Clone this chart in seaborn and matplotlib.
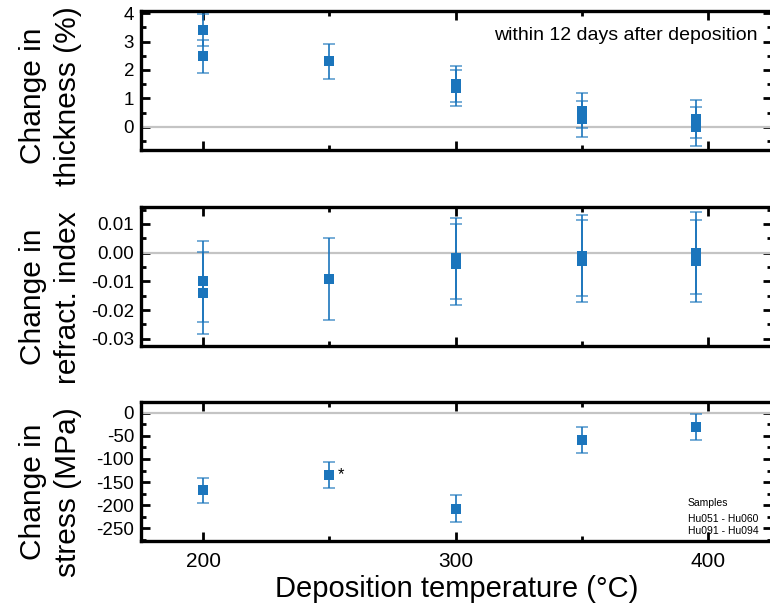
import matplotlib
matplotlib.use('Agg')
import matplotlib.pyplot as plt
from matplotlib.ticker import MultipleLocator, FormatStrFormatter
import seaborn as sns

# deposition temperature (°C) of the two sample groups
temp_a = [200, 250, 300, 350, 395]
temp_b = [200, 300, 350, 395]
groups = ['Hu051 - Hu060', 'Hu091 - Hu094']

# change in thickness (%)
thick_a = [3.40, 2.30, 1.50, 0.56, 0.27]
thick_a_err = [0.56, 0.61, 0.64, 0.62, 0.67]
thick_b = [2.48, 1.36, 0.27, 0.00]
thick_b_err = [0.59, 0.63, 0.63, 0.68]

# change in refractive index
ri_a = [-0.0100, -0.0091, -0.0020, -0.0010, 0.0000]
ri_a_err = [0.0142, 0.0142, 0.0142, 0.0142, 0.0143]
ri_b = [-0.0140, -0.0041, -0.0030, -0.0030]
ri_b_err = [0.0142, 0.0142, 0.0143, 0.0143]

# change in stress (MPa)
stress = [-168, -135, -207, -58, -31]
stress_err = [28, 28, 28.5, 28, 28]

blue = '#1b75bc'

sns.set_theme(style='ticks')
plt.rcParams['font.family'] = ['Liberation Sans', 'DejaVu Sans']
plt.rcParams['axes.unicode_minus'] = False
plt.rcParams['text.color'] = 'black'
plt.rcParams['axes.labelcolor'] = 'black'
plt.rcParams['xtick.color'] = 'black'
plt.rcParams['ytick.color'] = 'black'


def draw(ax, x, y, err):
    eb = ax.errorbar(x, y, yerr=err, fmt='none', ecolor=blue, elinewidth=1.2,
                     capsize=4, capthick=1.3, zorder=3)
    for cap in eb[1]:
        cap.set_alpha(0.65)
    sns.scatterplot(x=x, y=y, ax=ax, marker='s', s=42, color=blue,
                    linewidth=0, zorder=4, legend=False)


fig = plt.figure(figsize=(7.7, 6.1), dpi=100)
left, width = 0.1831, 0.8189
ax1 = fig.add_axes([left, 0.7541, width, 0.2279])
ax2 = fig.add_axes([left, 0.4333, width, 0.2269], sharex=ax1)
ax3 = fig.add_axes([left, 0.1136, width, 0.2279], sharex=ax1)

draw(ax1, temp_a, thick_a, thick_a_err)
draw(ax1, temp_b, thick_b, thick_b_err)
draw(ax2, temp_a, ri_a, ri_a_err)
draw(ax2, temp_b, ri_b, ri_b_err)
draw(ax3, temp_a, stress, stress_err)

setup = [
    (ax1, (-0.82, 4.08), 1, 0.5, '%d', 'Change in\nthickness (%)', 0.39),
    (ax2, (-0.0324, 0.0158), 0.01, 0.005, '%.2f', 'Change in\nrefract. index', 0.35),
    (ax3, (-276.5, 23.8), 50, 25, '%d', 'Change in\nstress (MPa)', 0.35),
]
for ax, ylim, maj, mnr, fmt, label, ly in setup:
    ax.axhline(0, color='#c4c4c4', lw=1.6, zorder=1)
    ax.set_ylim(*ylim)
    ax.yaxis.set_major_locator(MultipleLocator(maj))
    ax.yaxis.set_minor_locator(MultipleLocator(mnr))
    ax.yaxis.set_major_formatter(FormatStrFormatter(fmt))
    ax.tick_params(which='both', direction='in', top=True, right=True,
                   color='black', width=2)
    ax.tick_params(which='major', length=6.5, labelsize=13.5, pad=5)
    ax.tick_params(which='minor', length=3.5)
    ax.tick_params(axis='x', labelsize=15, pad=8)
    for sp in ax.spines.values():
        sp.set_linewidth(2.4)
        sp.set_color('black')
    ax.set_ylabel(label, fontsize=21.5, linespacing=1.3, color='black')
    ax.yaxis.set_label_coords(-0.094, ly)
    ax.grid(False)

ax1.set_xlim(175.4, 425.1)
ax1.xaxis.set_major_locator(MultipleLocator(100))
ax1.xaxis.set_minor_locator(MultipleLocator(50))
ax1.tick_params(axis='x', labelbottom=False)
ax2.tick_params(axis='x', labelbottom=False)
ax3.set_xlabel('Deposition temperature (°C)', fontsize=21, labelpad=3, color='black')

ax1.text(0.977, 0.827, 'within 12 days after deposition', transform=ax1.transAxes,
         ha='right', va='center', fontsize=14, color='black')

ax3.annotate('*', xy=(temp_a[1], stress[1]), xytext=(6, -3), textcoords='offset points',
             ha='left', va='baseline', fontsize=12, color='black')

ax3.text(0.867, 0.273, 'Samples', transform=ax3.transAxes, ha='left', va='center', fontsize=7.5)
ax3.text(0.867, 0.157, groups[0], transform=ax3.transAxes, ha='left', va='center', fontsize=7.5)
ax3.text(0.867, 0.071, groups[1], transform=ax3.transAxes, ha='left', va='center', fontsize=7.5)

fig.savefig('out.png', dpi=100)
